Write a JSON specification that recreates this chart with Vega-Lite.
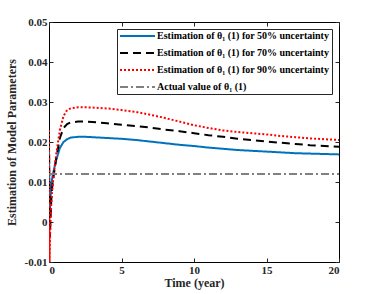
{
  "$schema": "https://vega.github.io/schema/vega-lite/v6.json",
  "autosize": "none",
  "width": 290,
  "height": 240,
  "padding": {"left": 49, "top": 22, "right": 35, "bottom": 32},
  "background": "white",
  "config": {
    "view": {"stroke": "black", "strokeWidth": 1},
    "font": "Liberation Serif",
    "axis": {"labelFont": "Liberation Serif", "titleFont": "Liberation Serif", "labelFontWeight": "bold", "titleFontWeight": "bold", "labelFontSize": 11, "titleFontSize": 12, "labelColor": "#262626", "titleColor": "#262626", "grid": false, "domain": false, "tickColor": "#262626", "tickSize": -4}
  },
  "data": {"values": [
    {"s": "A", "t": 0, "v": 0.018}, {"s": "A", "t": 0.03, "v": 0.006}, {"s": "A", "t": 0.06, "v": 0.002}, {"s": "A", "t": 0.1, "v": 0.006}, {"s": "A", "t": 0.2, "v": 0.0105}, {"s": "A", "t": 0.3, "v": 0.0125}, {"s": "A", "t": 0.5, "v": 0.0155}, {"s": "A", "t": 0.75, "v": 0.0185}, {"s": "A", "t": 1, "v": 0.02}, {"s": "A", "t": 1.25, "v": 0.0207}, {"s": "A", "t": 1.5, "v": 0.0211}, {"s": "A", "t": 2, "v": 0.0213}, {"s": "A", "t": 2.5, "v": 0.0213}, {"s": "A", "t": 3, "v": 0.0212}, {"s": "A", "t": 4, "v": 0.021}, {"s": "A", "t": 5, "v": 0.0208}, {"s": "A", "t": 6, "v": 0.0205}, {"s": "A", "t": 7, "v": 0.0201}, {"s": "A", "t": 8, "v": 0.0197}, {"s": "A", "t": 9, "v": 0.0193}, {"s": "A", "t": 10, "v": 0.019}, {"s": "A", "t": 11, "v": 0.0186}, {"s": "A", "t": 12, "v": 0.0183}, {"s": "A", "t": 13, "v": 0.018}, {"s": "A", "t": 14, "v": 0.0178}, {"s": "A", "t": 15, "v": 0.0176}, {"s": "A", "t": 16, "v": 0.0174}, {"s": "A", "t": 17, "v": 0.0172}, {"s": "A", "t": 18, "v": 0.0171}, {"s": "A", "t": 19, "v": 0.017}, {"s": "A", "t": 20, "v": 0.0169},
    {"s": "B", "t": 0, "v": 0.02}, {"s": "B", "t": 0.03, "v": 0.005}, {"s": "B", "t": 0.06, "v": -0.004}, {"s": "B", "t": 0.1, "v": 0.0}, {"s": "B", "t": 0.15, "v": 0.005}, {"s": "B", "t": 0.2, "v": 0.008}, {"s": "B", "t": 0.3, "v": 0.011}, {"s": "B", "t": 0.5, "v": 0.016}, {"s": "B", "t": 0.75, "v": 0.021}, {"s": "B", "t": 1, "v": 0.0235}, {"s": "B", "t": 1.25, "v": 0.0245}, {"s": "B", "t": 1.5, "v": 0.0249}, {"s": "B", "t": 2, "v": 0.0251}, {"s": "B", "t": 2.5, "v": 0.0251}, {"s": "B", "t": 3, "v": 0.025}, {"s": "B", "t": 4, "v": 0.0247}, {"s": "B", "t": 5, "v": 0.0243}, {"s": "B", "t": 6, "v": 0.024}, {"s": "B", "t": 7, "v": 0.0236}, {"s": "B", "t": 8, "v": 0.0231}, {"s": "B", "t": 9, "v": 0.0227}, {"s": "B", "t": 10, "v": 0.0222}, {"s": "B", "t": 11, "v": 0.0217}, {"s": "B", "t": 12, "v": 0.0213}, {"s": "B", "t": 13, "v": 0.0208}, {"s": "B", "t": 14, "v": 0.0205}, {"s": "B", "t": 15, "v": 0.0201}, {"s": "B", "t": 16, "v": 0.0198}, {"s": "B", "t": 17, "v": 0.0195}, {"s": "B", "t": 18, "v": 0.0192}, {"s": "B", "t": 19, "v": 0.019}, {"s": "B", "t": 20, "v": 0.0188},
    {"s": "C", "t": 0, "v": 0.023}, {"s": "C", "t": 0.02, "v": 0.01}, {"s": "C", "t": 0.04, "v": -0.01}, {"s": "C", "t": 0.08, "v": -0.002}, {"s": "C", "t": 0.15, "v": 0.004}, {"s": "C", "t": 0.2, "v": 0.007}, {"s": "C", "t": 0.3, "v": 0.011}, {"s": "C", "t": 0.5, "v": 0.017}, {"s": "C", "t": 0.75, "v": 0.023}, {"s": "C", "t": 1, "v": 0.0265}, {"s": "C", "t": 1.25, "v": 0.028}, {"s": "C", "t": 1.5, "v": 0.0284}, {"s": "C", "t": 2, "v": 0.0287}, {"s": "C", "t": 2.5, "v": 0.0287}, {"s": "C", "t": 3, "v": 0.0286}, {"s": "C", "t": 4, "v": 0.0284}, {"s": "C", "t": 5, "v": 0.028}, {"s": "C", "t": 6, "v": 0.0275}, {"s": "C", "t": 7, "v": 0.0268}, {"s": "C", "t": 8, "v": 0.026}, {"s": "C", "t": 9, "v": 0.0251}, {"s": "C", "t": 10, "v": 0.0242}, {"s": "C", "t": 11, "v": 0.0235}, {"s": "C", "t": 12, "v": 0.0229}, {"s": "C", "t": 13, "v": 0.0225}, {"s": "C", "t": 14, "v": 0.0222}, {"s": "C", "t": 15, "v": 0.0219}, {"s": "C", "t": 16, "v": 0.0215}, {"s": "C", "t": 17, "v": 0.0212}, {"s": "C", "t": 18, "v": 0.0209}, {"s": "C", "t": 19, "v": 0.0207}, {"s": "C", "t": 20, "v": 0.0205},
    {"s": "D", "t": 0, "v": 0.012}, {"s": "D", "t": 20, "v": 0.012}
  ]},
  "transform": [
    {"calculate": "datum.s === 'A' ? 'Estimation of θ₁ (1) for 50% uncertainty' : datum.s === 'B' ? 'Estimation of θ₁ (1) for 70% uncertainty' : datum.s === 'C' ? 'Estimation of θ₁ (1) for 90% uncertainty' : 'Actual value of θ₁ (1)'", "as": "series"}
  ],
  "layer": [
    {
      "mark": {"type": "line", "strokeWidth": 2, "clip": true},
      "encoding": {
        "x": {"field": "t", "type": "quantitative", "scale": {"domain": [0, 20], "nice": false}, "axis": {"title": "Time (year)", "values": [0, 5, 10, 15, 20], "labelPadding": 6, "titlePadding": 2}},
        "y": {"field": "v", "type": "quantitative", "scale": {"domain": [-0.01, 0.05], "nice": false}, "axis": {"title": "Estimation of Model Parameters", "values": [-0.01, 0, 0.01, 0.02, 0.03, 0.04, 0.05], "labelExpr": "datum.value === 0 ? '0' : (datum.value < 0 ? '-' : '') + format(abs(datum.value), '.2f')", "labelPadding": 6, "titlePadding": 6}},
        "color": {"field": "series", "type": "nominal", "sort": null, "scale": {"domain": ["Estimation of θ₁ (1) for 50% uncertainty", "Estimation of θ₁ (1) for 70% uncertainty", "Estimation of θ₁ (1) for 90% uncertainty", "Actual value of θ₁ (1)"], "range": ["#0072BD", "#000000", "#FF0000", "#808080"]},
          "legend": {"title": null, "orient": "none", "legendX": 68, "legendY": 7, "fillColor": "white", "strokeColor": "#262626", "padding": 2, "symbolType": "M-1,0H7.75", "symbolSize": 64, "symbolStrokeWidth": 2, "labelFont": "Liberation Serif", "labelFontWeight": "bold", "labelFontSize": 10, "labelColor": "black", "labelLimit": 300, "rowPadding": 7, "labelOffset": 28}},
        "strokeDash": {"field": "series", "type": "nominal", "sort": null, "scale": {"domain": ["Estimation of θ₁ (1) for 50% uncertainty", "Estimation of θ₁ (1) for 70% uncertainty", "Estimation of θ₁ (1) for 90% uncertainty", "Actual value of θ₁ (1)"], "range": [[1, 0], [8, 5], [2, 2], [8, 3, 2, 3]]}, "legend": null}
      }
    },
    {
      "mark": {"type": "point", "opacity": 0},
      "encoding": {
        "x": {"field": "t", "type": "quantitative", "axis": {"orient": "top", "title": null, "labels": false, "values": [0, 5, 10, 15, 20]}},
        "y": {"field": "v", "type": "quantitative", "axis": {"orient": "right", "title": null, "labels": false, "values": [-0.01, 0, 0.01, 0.02, 0.03, 0.04, 0.05]}}
      }
    }
  ],
  "resolve": {"axis": {"x": "independent", "y": "independent"}}
}
